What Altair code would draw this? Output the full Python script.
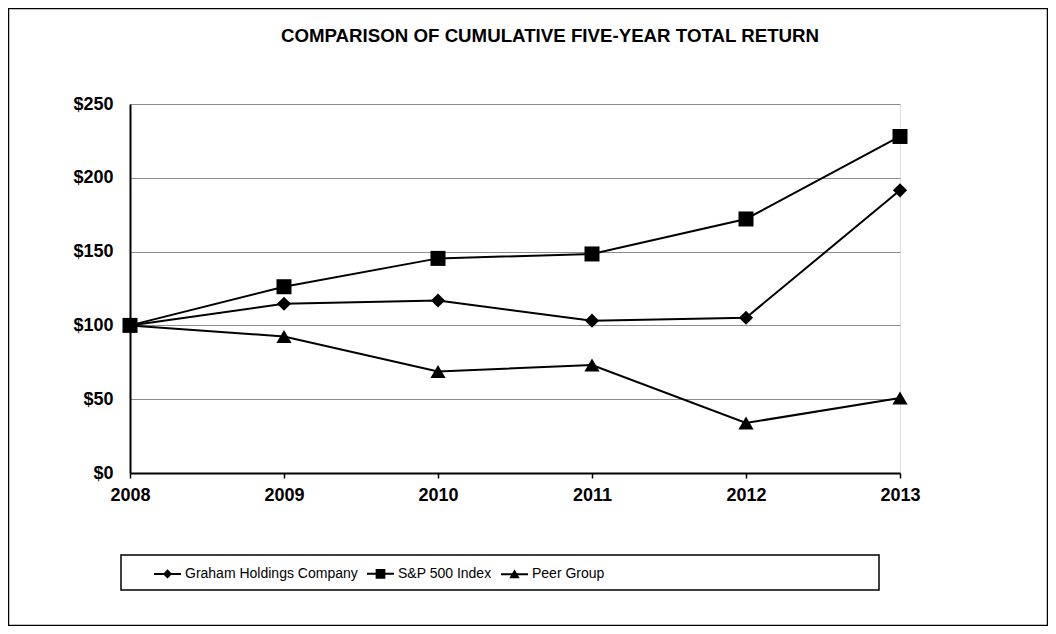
import altair as alt
import pandas as pd

years = [2008, 2009, 2010, 2011, 2012, 2013]
graham = [100, 114.7, 116.9, 103.2, 105.2, 191.5]
sp500 = [100, 126.2, 145.4, 148.4, 172.1, 228.0]
peer = [100, 92.5, 68.8, 73.2, 33.9, 50.8]
series = ["Graham Holdings Company", "S&P 500 Index", "Peer Group"]
marker_shapes = ["diamond", "square", "triangle-up"]
marker_sizes = [200, 225, 230]
title_text = "COMPARISON OF CUMULATIVE FIVE-YEAR TOTAL RETURN"

rows = []
for name, vals in zip(series, [graham, sp500, peer]):
    for y, v in zip(years, vals):
        rows.append({"year": y, "value": v, "series": name})
df = pd.DataFrame(rows)

FONT = "Liberation Sans, Arial, sans-serif"

x = alt.X("year:Q", scale=alt.Scale(domain=[2008, 2013], nice=False),
          axis=alt.Axis(values=years, format="d", title=None, grid=False,
                        domainColor="black", domainWidth=2, tickColor="black",
                        tickWidth=1.5, tickSize=5, labelPadding=8, labelFlush=False,
                        labelFont=FONT, labelFontSize=18, labelFontWeight="bold",
                        labelColor="black"))
y = alt.Y("value:Q", scale=alt.Scale(domain=[0, 250], nice=False),
          axis=alt.Axis(values=[0, 50, 100, 150, 200, 250], format="$,.0f",
                        title=None, grid=True, gridColor="#8c8c8c", gridWidth=1,
                        domainColor="black", domainWidth=2, ticks=False,
                        labelPadding=17, labelFont=FONT, labelFontSize=18,
                        labelFontWeight="bold", labelColor="black"))

base = alt.Chart(df)

lines = base.mark_line(color="black", strokeWidth=2).encode(
    x=x, y=y, detail="series:N")

point_layers = [
    base.transform_filter(alt.datum.series == name).mark_point(
        filled=True, color="black", opacity=1, size=sz, shape=shp).encode(x=x, y=y)
    for name, shp, sz in zip(series, marker_shapes, marker_sizes)
]

bar = "M-1,-0.075L1,-0.075L1,0.075L-1,0.075Z"
leg_paths = [
    bar + "M0,-0.34L0.34,0L0,0.34L-0.34,0Z",
    bar + "M-0.36,-0.36L0.36,-0.36L0.36,0.36L-0.36,0.36Z",
    bar + "M0,-0.36L0.38,0.3L-0.38,0.3Z",
]
legend_layer = base.mark_point(filled=True, color="black", opacity=0).encode(
    x=x, y=y,
    shape=alt.Shape("series:N",
                    scale=alt.Scale(domain=series, range=leg_paths),
                    legend=alt.Legend(title=None, orient="none", direction="horizontal",
                                      legendX=23, legendY=455, padding=0,
                                      symbolSize=729, symbolOpacity=1,
                                      symbolFillColor="black",
                                      labelOffset=3, columnPadding=6,
                                      labelFont=FONT, labelFontSize=14,
                                      labelColor="black", labelLimit=400)))

one = alt.Chart(pd.DataFrame({"a": [0]}))
legend_box = one.mark_rect(fill=None, stroke="black", strokeWidth=1.5).encode(
    x=alt.value(-9), x2=alt.value(749), y=alt.value(451), y2=alt.value(486))
frame = one.mark_rect(fill=None, stroke="black", strokeWidth=1.5).encode(
    x=alt.value(-121.5), x2=alt.value(917.5), y=alt.value(-95.5), y2=alt.value(521.5))
title = one.mark_text(text=title_text, font=FONT, fontSize=18.7, fontWeight="bold",
                      color="black", align="center", baseline="alphabetic").encode(
    x=alt.value(420), y=alt.value(-62))

chart = alt.layer(frame, legend_box, title, lines, *point_layers, legend_layer).properties(
    width=770, height=369,
    autosize=alt.AutoSizeParams(type="none"),
    padding={"left": 122, "top": 96, "right": 148, "bottom": 153},
).configure_view(stroke="black", strokeWidth=1).configure(background="white")

chart.save("out.html", embed_options={"renderer": "svg", "actions": False})
